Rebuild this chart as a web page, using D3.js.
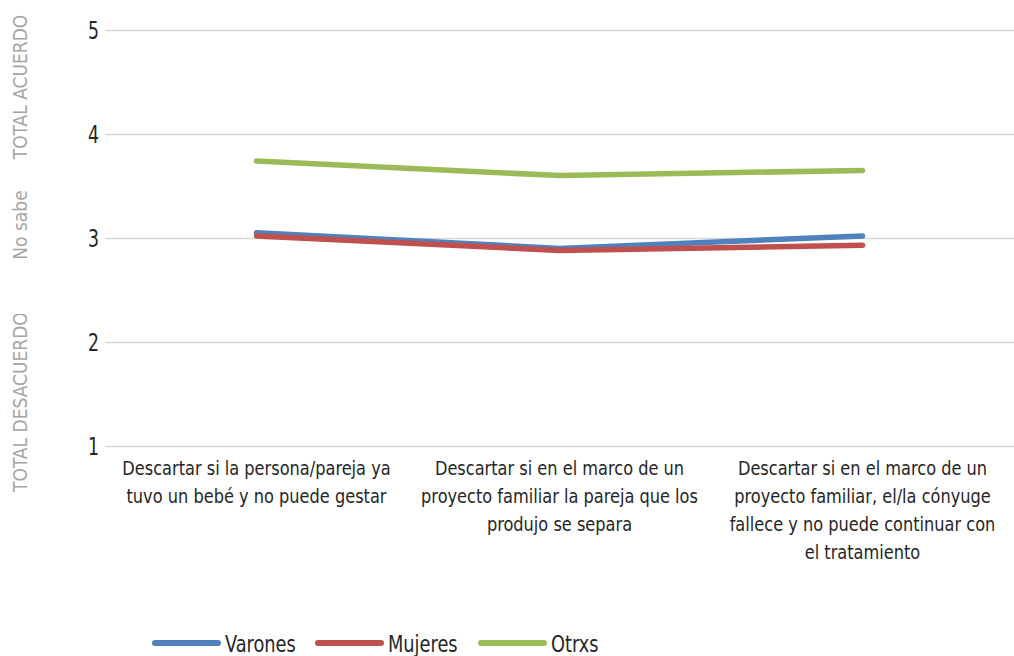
<!DOCTYPE html>
<html>
<head>
<meta charset="utf-8">
<script src="https://cdn.jsdelivr.net/npm/d3@7"></script>
<style>
  body { margin: 0; background: #fff; }
  svg text { font-family: "DejaVu Sans Condensed", "Liberation Sans Narrow", sans-serif; }
</style>
</head>
<body>
<div id="chart"></div>
<script>
// data
var categories = [
    "Descartar si la persona/pareja ya\ntuvo un bebé y no puede gestar",
    "Descartar si en el marco de un\nproyecto familiar la pareja que los\nprodujo se separa",
    "Descartar si en el marco de un\nproyecto familiar, el/la cónyuge\nfallece y no puede continuar con\nel tratamiento"
];
var seriesNames = ["Varones", "Mujeres", "Otrxs"];
var varones = [3.05, 2.90, 3.02];
var mujeres = [3.02, 2.88, 2.93];
var otrxs = [3.74, 3.60, 3.65];
var yTicks = [1, 2, 3, 4, 5];
var sideLabels = ["TOTAL ACUERDO", "No sabe", "TOTAL DESACUERDO"];

var colors = ["#4F81BD", "#C0504D", "#9BBB59"];
var seriesValues = [varones, mujeres, otrxs];

var svgWidth = 1014;
var svgHeight = 656;
var margin = {top: 30, right: 0, bottom: 210, left: 105};
var width = svgWidth - margin.left - margin.right;
var height = svgHeight - margin.top - margin.bottom;

// narrow font look: squeeze text horizontally
var squeeze = 0.86;

var svg = d3.select("#chart")
    .append("svg")
    .attr("width", svgWidth)
    .attr("height", svgHeight);

var chartGroup = svg.append("g")
    .attr("transform", `translate(${margin.left},${margin.top})`);

var xScale = d3.scaleBand()
    .domain(d3.range(categories.length))
    .range([0, width]);

var yScale = d3.scaleLinear()
    .domain([1, 5])
    .range([height, 0]);

// gridlines
var yAxis = d3.axisLeft(yScale)
    .tickValues(yTicks)
    .tickSize(-width)
    .tickFormat("");

var yAxisG = chartGroup.append("g").call(yAxis);
yAxisG.select(".domain").remove();
yAxisG.selectAll(".tick line")
    .attr("stroke", "#d9d9d9")
    .attr("stroke-width", 1.5);

// y tick labels
yAxisG.selectAll(".tick")
    .append("g")
    .attr("transform", `translate(-6,0) scale(0.8,1)`)
    .append("text")
    .attr("text-anchor", "end")
    .attr("dy", "0.36em")
    .attr("fill", "#262626")
    .style("font-size", "24px")
    .text(d => d);

// category labels
var catG = chartGroup.append("g")
    .attr("transform", `translate(0,${height})`);
categories.forEach(function(c, i) {
    var t = catG.append("g")
        .attr("transform", `translate(${xScale(i) + xScale.bandwidth() / 2},29) scale(0.9,1)`)
        .append("text")
        .attr("text-anchor", "middle")
        .attr("fill", "#262626")
        .style("font-size", "20px");
    c.split("\n").forEach(function(line, j) {
        t.append("tspan")
            .attr("x", 0)
            .attr("dy", j === 0 ? 0 : 28)
            .text(line);
    });
});

// lines
var line = d3.line()
    .x(function(d, i) { return xScale(i) + xScale.bandwidth() / 2; })
    .y(function(d) { return yScale(d); });

seriesValues.forEach(function(vals, s) {
    chartGroup.append("path")
        .datum(vals)
        .attr("d", line)
        .attr("fill", "none")
        .attr("stroke", colors[s])
        .attr("stroke-width", 5.5)
        .attr("stroke-linecap", "round")
        .attr("stroke-linejoin", "round");
});

// side labels (rotated), the last one is clipped at the top
svg.append("clipPath")
    .attr("id", "sideClip")
    .append("rect")
    .attr("x", 0).attr("y", 314)
    .attr("width", 40)
    .attr("height", 300);

var sidePos = [
    {y: 87, anchor: "middle"},
    {y: 225, anchor: "middle"},
    {y: 492, anchor: "start"}
];
sideLabels.forEach(function(txt, i) {
    svg.append("g")
        .attr("clip-path", i === 2 ? "url(#sideClip)" : null)
        .append("g")
        .attr("transform", `translate(27,${sidePos[i].y}) rotate(-90)`)
        .append("text")
        .attr("text-anchor", sidePos[i].anchor)
        .attr("fill", "#a6a6a6")
        .style("font-size", "19px")
        .text(txt);
});

// legend
var legendItems = [
    {x: 155, tx: 225},
    {x: 318, tx: 388},
    {x: 481, tx: 551}
];
var legend = svg.append("g").attr("transform", "translate(0,643)");
seriesNames.forEach(function(name, s) {
    legend.append("line")
        .attr("x1", legendItems[s].x)
        .attr("x2", legendItems[s].x + 63)
        .attr("y1", 0).attr("y2", 0)
        .attr("stroke", colors[s])
        .attr("stroke-width", 6)
        .attr("stroke-linecap", "round");
    legend.append("g")
        .attr("transform", `translate(${legendItems[s].tx},9) scale(${squeeze},1)`)
        .append("text")
        .attr("fill", "#262626")
        .style("font-size", "23px")
        .text(name);
});
</script>
</body>
</html>
